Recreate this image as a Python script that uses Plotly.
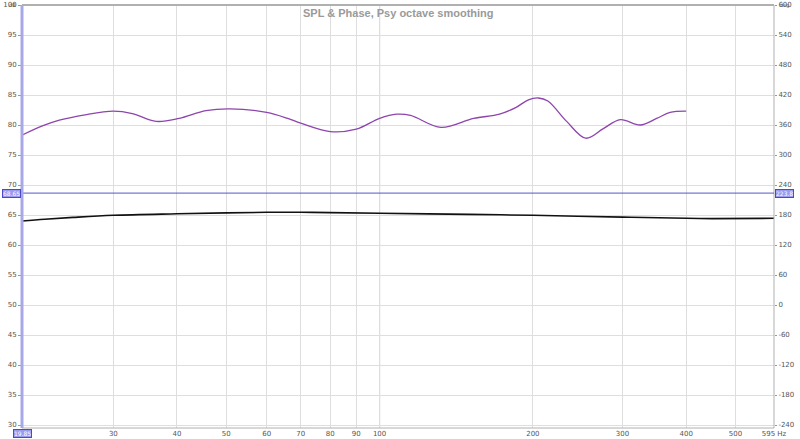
import math
import plotly.graph_objects as go

# ---- data ----
spl_freq = [19.85, 22, 25, 30, 40, 50, 60, 70, 80, 100, 150, 200, 300, 400, 450, 595]
spl_db = [64.0, 64.3, 64.6, 64.95, 65.2, 65.35, 65.45, 65.45, 65.4, 65.3, 65.1, 64.95, 64.65, 64.45, 64.4, 64.45]

phase_freq = [19.85, 21.7, 23.5, 26.4, 30, 32.7, 36.4, 40.4, 45.6, 50.8, 60, 66, 70, 80, 90, 100,
              108, 115, 132, 153, 172, 185, 196, 205, 214, 233, 254, 275, 297, 325, 350, 372, 400]
phase_db = [78.3, 79.8, 80.8, 81.7, 82.3, 81.9, 80.6, 81.1, 82.4, 82.7, 82.1, 81.1, 80.3, 78.9, 79.3, 81.1,
            81.8, 81.6, 79.6, 81.1, 81.8, 82.9, 84.2, 84.5, 84.0, 80.6, 77.8, 79.4, 80.9, 80.0, 81.1, 82.1, 82.3]
# phase trace is drawn on the deg axis: deg = (dB - 30) * 12 - 240
phase_deg = [(v - 30) * 12 - 240 for v in phase_db]

x_ticks = [30, 40, 50, 60, 70, 80, 90, 100, 200, 300, 400, 500, 595]
x_labels = ["30", "40", "50", "60", "70", "80", "90", "100", "200", "300", "400", "500", "595 Hz"]
y_ticks = [30, 35, 40, 45, 50, 55, 60, 65, 70, 75, 80, 85, 90, 95, 100]
y2_ticks = [-240, -180, -120, -60, 0, 60, 120, 180, 240, 300, 360, 420, 480, 540, 600]
y2_labels = [str(v) for v in y2_ticks]

marker_db = 68.65
marker_deg = 223.8
cursor_freq = 19.85
title_text = "SPL & Phase, Psy octave smoothing"

FONT = "DejaVu Sans"
TICKC = "#555555"
GRID = "#dedede"

fig = go.Figure()
fig.add_trace(go.Scatter(x=spl_freq, y=spl_db, mode="lines", line=dict(color="#111111", width=1.6, shape="spline"),
                         showlegend=False, hoverinfo="skip"))
fig.add_trace(go.Scatter(x=phase_freq, y=phase_deg, mode="lines", yaxis="y2",
                         line=dict(color="#8e44ad", width=1.3, shape="spline", smoothing=1.0),
                         showlegend=False, hoverinfo="skip"))

fig.update_layout(
    width=800, height=439,
    margin=dict(l=22, r=26, t=5, b=11, autoexpand=False),
    paper_bgcolor="white", plot_bgcolor="white",
    font=dict(family=FONT, size=7, color=TICKC),
    xaxis=dict(type="log", range=[math.log10(19.85), math.log10(595)],
               tickvals=x_ticks, ticktext=x_labels, showgrid=True, gridcolor=GRID, gridwidth=1,
               ticks="", zeroline=False, showline=False, tickfont=dict(size=7, color=TICKC)),
    yaxis=dict(range=[29.5, 100], tickvals=y_ticks, showgrid=True, gridcolor=GRID, gridwidth=1,
               ticks="outside", ticklen=3, tickcolor="#999999", zeroline=False, showline=False,
               tickfont=dict(size=7, color=TICKC)),
    yaxis2=dict(range=[-246, 600], tickvals=y2_ticks, ticktext=y2_labels, overlaying="y", side="right",
                showgrid=False, ticks="outside", ticklen=2, tickcolor="#999999", zeroline=False,
                showline=False, tickfont=dict(size=7, color=TICKC)),
)

shapes = []
shapes.append(dict(type="line", xref="x", yref="paper", x0=100, x1=100, y0=0, y1=1,
                   line=dict(color="#a0a0a0", width=1), layer="below"))
shapes.append(dict(type="rect", xref="paper", yref="paper", x0=0, x1=1, y0=0, y1=1,
                   line=dict(color="#b0b0b0", width=1)))
shapes.append(dict(type="line", xref="paper", yref="paper", x0=0, x1=1, y0=1, y1=1,
                   line=dict(color="#b0b0b0", width=2)))
shapes.append(dict(type="line", xref="paper", yref="y", x0=0, x1=1, y0=marker_db, y1=marker_db,
                   line=dict(color="#5656c8", width=1)))
shapes.append(dict(type="line", xref="paper", yref="paper", x0=0, x1=0, y0=0, y1=1,
                   line=dict(color="#a8a8e8", width=3)))
fig.update_layout(shapes=shapes)

box = dict(bgcolor="#9a9af0", bordercolor="#4a4ac8", borderwidth=1, borderpad=0,
           font=dict(family=FONT, size=6, color="white"), showarrow=False)
fig.add_annotation(text=f"{marker_db:.2f}", xref="paper", yref="y", x=0, y=marker_db, xanchor="right",
                   yanchor="middle", xshift=-1, **box)
fig.add_annotation(text=f"{marker_deg:.1f}", xref="paper", yref="y", x=1, y=marker_db, xanchor="left",
                   yanchor="middle", xshift=1, **box)
fig.add_annotation(text=f"{cursor_freq:.2f}", xref="x", yref="paper", x=math.log10(cursor_freq), y=0,
                   xanchor="center", yanchor="top", yshift=-1, **box)
fig.add_annotation(text="dB", xref="paper", yref="paper", x=0, y=1, xanchor="right", yanchor="top",
                   xshift=-4, yshift=5, showarrow=False, font=dict(family=FONT, size=5, color=TICKC))
fig.add_annotation(text="deg", xref="paper", yref="paper", x=1, y=1, xanchor="left", yanchor="top",
                   xshift=4, yshift=5, showarrow=False, font=dict(family=FONT, size=5, color=TICKC))
fig.add_annotation(text="<b>" + title_text + "</b>", xref="paper", yref="paper", x=0.5, y=1,
                   xanchor="center", yanchor="top", yshift=0, showarrow=False,
                   font=dict(family="Liberation Sans", size=11, color="#9a9a9a"))

fig.write_html("out.html", config={"displayModeBar": False},
               post_script="document.body.style.margin='0';document.body.style.padding='0';")
